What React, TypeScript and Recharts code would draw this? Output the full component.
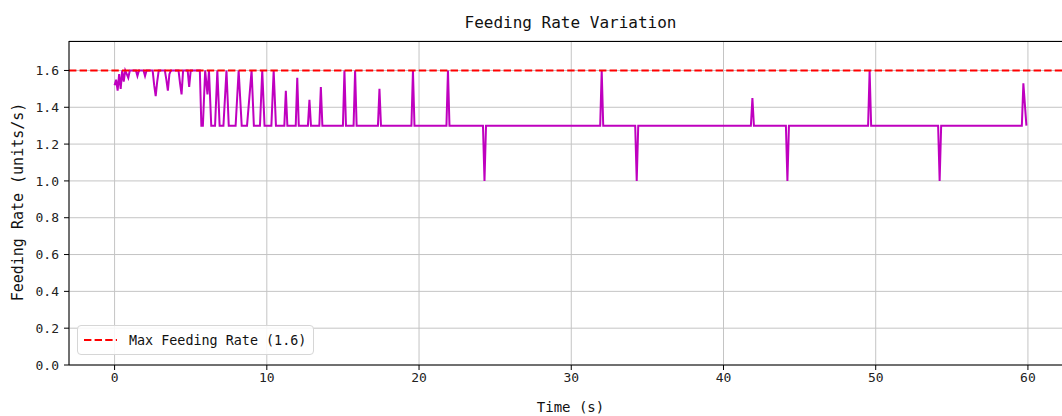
import React from 'react';
import { LineChart, Line, XAxis, YAxis, CartesianGrid, ReferenceLine } from 'recharts';

const TIMES = [
  0.0, 0.1, 0.2, 0.3, 0.4, 0.5, 0.6, 0.7, 0.9, 1.0, 1.4, 1.5, 1.6, 1.9, 2.0, 2.1, 2.5, 2.6, 2.7, 2.8,
  2.9, 3.3, 3.4, 3.5, 3.6, 3.7, 4.2, 4.3, 4.4, 4.5, 4.8, 4.9, 5.0, 5.6, 5.7, 5.8, 5.95, 6.1, 6.2, 6.35,
  6.6, 6.75, 6.9, 7.15, 7.35, 7.5, 7.95, 8.15, 8.35, 8.7, 8.9, 9.0, 9.15, 9.55, 9.7, 9.85, 10.3, 10.45, 10.6, 11.15,
  11.25, 11.35, 11.9, 12.0, 12.1, 12.7, 12.8, 12.9, 13.45, 13.55, 13.65, 15.0, 15.1, 15.2, 15.7, 15.8, 15.9, 17.3, 17.4, 17.5,
  19.5, 19.6, 19.7, 21.8, 21.9, 22.0, 24.2, 24.3, 24.4, 31.9, 32.0, 32.1, 34.2, 34.3, 34.4, 41.8, 41.9, 42.0, 44.1, 44.2,
  44.3, 49.5, 49.6, 49.7, 54.1, 54.2, 54.3, 59.6, 59.7, 59.9,
];

const RATES = [
  1.52, 1.55, 1.49, 1.58, 1.5, 1.6, 1.54, 1.6, 1.56, 1.6, 1.6, 1.57, 1.6, 1.6, 1.57, 1.6, 1.6, 1.52, 1.46, 1.54,
  1.6, 1.6, 1.55, 1.49, 1.58, 1.6, 1.6, 1.53, 1.47, 1.6, 1.6, 1.51, 1.6, 1.6, 1.3, 1.3, 1.6, 1.47, 1.6, 1.3,
  1.3, 1.6, 1.3, 1.3, 1.6, 1.3, 1.3, 1.6, 1.3, 1.3, 1.5, 1.6, 1.3, 1.3, 1.6, 1.3, 1.3, 1.6, 1.3, 1.3,
  1.49, 1.3, 1.3, 1.56, 1.3, 1.3, 1.44, 1.3, 1.3, 1.51, 1.3, 1.3, 1.6, 1.3, 1.3, 1.6, 1.3, 1.3, 1.5, 1.3,
  1.3, 1.6, 1.3, 1.3, 1.6, 1.3, 1.3, 1.0, 1.3, 1.3, 1.6, 1.3, 1.3, 1.0, 1.3, 1.3, 1.45, 1.3, 1.3, 1.0,
  1.3, 1.3, 1.6, 1.3, 1.3, 1.0, 1.3, 1.3, 1.53, 1.3,
];

const X_TICKS = [0, 10, 20, 30, 40, 50, 60];
const Y_TICKS = [0, 0.2, 0.4, 0.6, 0.8, 1.0, 1.2, 1.4, 1.6];
const MAX_RATE = 1.6;

const LINE_COLOR = '#bf00bf';
const MAX_COLOR = '#ff0000';
const GRID_COLOR = '#c4c4c4';
const FONT = '"DejaVu Sans Mono", monospace';

const data = TIMES.map((t, i) => ({ t, rate: RATES[i] }));

export default function App() {
  const tickStyle = { fontSize: 13, fill: '#222', fontFamily: FONT };
  return (
    <div
      style={{
        position: 'absolute',
        left: 0,
        top: 0,
        width: 1062,
        height: 416,
        overflow: 'hidden',
        background: '#fff',
        fontFamily: FONT,
      }}
    >
      <LineChart width={1080} height={416} data={data} margin={{ top: 41, right: 8, bottom: 21, left: 0 }}>
        <CartesianGrid stroke={GRID_COLOR} strokeWidth={1} />
        <XAxis
          type="number"
          dataKey="t"
          domain={[-2.995, 62.895]}
          ticks={X_TICKS}
          allowDataOverflow
          height={30}
          tickSize={5}
          tickMargin={3}
          stroke="#000"
          tick={tickStyle}
        />
        <YAxis
          type="number"
          domain={[0, 1.76]}
          ticks={Y_TICKS}
          allowDataOverflow
          width={69}
          tickSize={5}
          tickMargin={5}
          stroke="#000"
          tick={tickStyle}
          tickFormatter={(v: number) => v.toFixed(1)}
        />
        <Line
          type="linear"
          dataKey="rate"
          stroke={LINE_COLOR}
          strokeWidth={2}
          dot={false}
          isAnimationActive={false}
        />
        <ReferenceLine y={MAX_RATE} stroke={MAX_COLOR} strokeWidth={2} strokeDasharray="7.4 3.2" />
      </LineChart>

      {/* top spine */}
      <div style={{ position: 'absolute', left: 69, top: 41, width: 1003, height: 0, borderTop: '1px solid #000' }} />

      <div style={{ position: 'absolute', left: 0, top: 13, width: 1141, textAlign: 'center', fontSize: 16, color: '#111' }}>
        Feeding Rate Variation
      </div>
      <div style={{ position: 'absolute', left: 0, top: 399, width: 1141, textAlign: 'center', fontSize: 14, color: '#111' }}>
        Time (s)
      </div>
      <div
        style={{
          position: 'absolute',
          left: 18,
          top: 202,
          transform: 'translate(-50%, -50%) rotate(-90deg)',
          whiteSpace: 'nowrap',
          fontSize: 15,
          color: '#111',
        }}
      >
        Feeding Rate (units/s)
      </div>

      <div
        style={{
          position: 'absolute',
          left: 77,
          top: 325,
          width: 237,
          height: 30,
          border: '1px solid #d6d6d6',
          borderRadius: 4,
          background: 'rgba(255,255,255,0.85)',
          display: 'flex',
          alignItems: 'center',
          boxSizing: 'border-box',
        }}
      >
        <svg width={40} height={10} style={{ marginLeft: 5 }}>
          <line x1={1} y1={5} x2={34} y2={5} stroke={MAX_COLOR} strokeWidth={2} strokeDasharray="7.4 3.2" />
        </svg>
        <span style={{ marginLeft: 6, fontSize: 13.4, color: '#111', whiteSpace: 'nowrap' }}>Max Feeding Rate (1.6)</span>
      </div>
    </div>
  );
}
